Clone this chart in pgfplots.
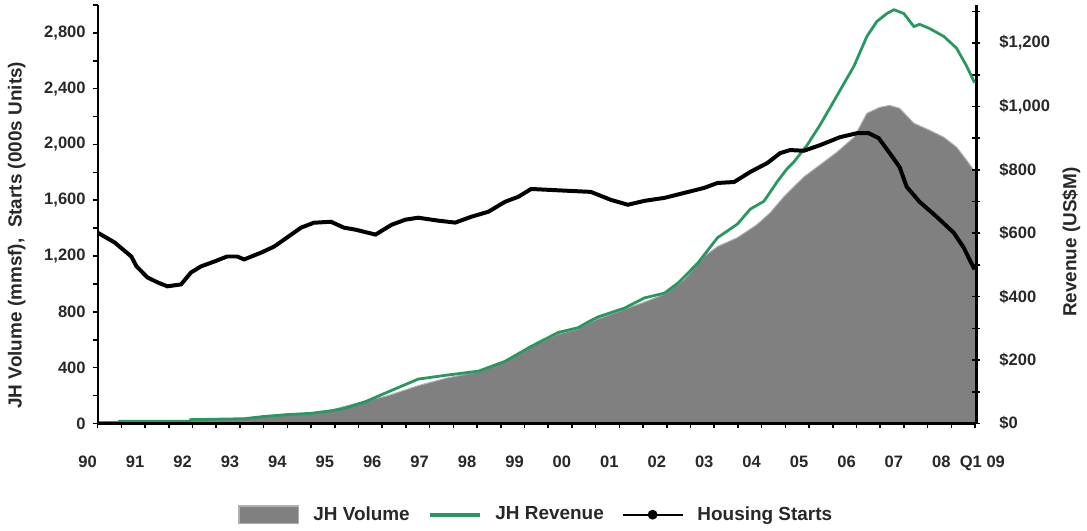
\documentclass[border=0pt]{standalone}
\usepackage{fontspec}
\setmainfont{Liberation Sans}
\usepackage{pgfplots}
\pgfplotsset{compat=1.18}
\usepackage{pgfplotstable}

\definecolor{volgray}{RGB}{128,128,128}
\definecolor{voledge}{RGB}{175,175,175}
\definecolor{revgreen}{RGB}{40,152,96}
\definecolor{txt}{RGB}{40,40,40}

% JH Volume (mmsf), x = years since start of 1990
\pgfplotstableread{
t v
0 0
0.45 0
0.46 14
1.95 14
1.96 28
3.09 36
3.5 50
4.0 64
4.5 71
4.92 93
5.19 121
5.65 160
6.13 200
6.76 271
7.39 328
8.03 370
8.59 442
9.14 549
9.71 641
10.13 677
10.34 720
10.55 750
11.11 819
11.53 870
11.95 926
12.37 1033
12.79 1197
13.07 1268
13.49 1332
13.9 1425
14.18 1510
14.47 1625
14.60 1670
14.89 1767
15.23 1853
15.59 1945
15.95 2052
16.22 2223
16.49 2266
16.70 2280
16.91 2259
17.21 2152
17.54 2102
17.84 2052
18.11 1981
18.32 1888
18.47 1817
18.53 1800
}\voldata

% JH Revenue (US$M)
\pgfplotstableread{
t v
0 3
0.45 3
0.46 7
1.95 7
1.96 12
3.09 15
3.5 22
4.0 28
4.5 32
4.92 40
5.19 47
5.65 69
6.13 100
6.76 140
7.39 153
8.03 165
8.59 196
9.14 243
9.71 287
10.13 302
10.34 320
10.55 336
11.11 364
11.53 396
11.95 411
12.23 442
12.65 505
13.07 586
13.49 629
13.76 676
14.05 701
14.33 763
14.54 804
14.68 825
14.96 878
15.23 941
15.59 1034
15.95 1128
16.22 1221
16.43 1268
16.64 1293
16.79 1305
17.0 1293
17.21 1252
17.33 1259
17.54 1246
17.84 1221
18.11 1184
18.32 1128
18.49 1075
}\revdata

% Housing Starts (000s units)
\pgfplotstableread{
t v
0 1368
0.36 1297
0.71 1197
0.82 1126
1.05 1047
1.26 1012
1.47 983
1.76 997
1.97 1083
2.18 1126
2.46 1161
2.73 1197
2.94 1197
3.09 1176
3.45 1225
3.72 1268
3.99 1332
4.29 1404
4.56 1439
4.92 1446
5.19 1404
5.44 1389
5.86 1354
6.20 1425
6.49 1461
6.76 1475
7.18 1454
7.54 1440
7.88 1482
8.24 1518
8.59 1589
8.87 1625
9.14 1681
9.56 1674
9.98 1667
10.40 1660
10.82 1603
11.18 1568
11.53 1596
11.95 1617
12.37 1653
12.79 1689
13.07 1724
13.42 1731
13.76 1803
14.12 1867
14.39 1938
14.60 1960
14.89 1955
15.23 1995
15.65 2052
16.01 2081
16.26 2081
16.47 2045
16.70 1938
16.91 1838
17.06 1696
17.33 1589
17.69 1482
18.05 1368
18.26 1261
18.49 1104
}\hsdata

\pgfplotsset{
  base/.style={
    width=441pt, height=210pt, scale only axis,
    xmin=0, xmax=18.53,
    /pgf/number format/assume math mode=true,
    /pgf/number format/1000 sep={,},
    tick label style={font=\fontsize{8.3}{9.8}\selectfont\bfseries, text=txt},
    label style={font=\fontsize{9.5}{11}\selectfont\bfseries, text=txt},
  }
}

\begin{document}
\begin{tikzpicture}
% Layer 1: volume area (left scale)
\begin{axis}[base, ymin=0, ymax=3000, hide axis]
  \addplot[fill=volgray, draw=voledge, line width=0.5pt] table[x=t,y=v] {\voldata} \closedcycle;
\end{axis}

% Layer 2: revenue (right scale)
\begin{axis}[base, ymin=0, ymax=1320,
  axis x line=none, axis y line*=right,
  y axis line style={line width=1.1pt, black},
  ytick={0,200,...,1200}, minor ytick={100,300,...,1300},
  tick align=center, major tick length=4pt, minor tick length=4pt,
  every tick/.style={black, line width=0.8pt},
  yticklabel={\$\pgfmathprintnumber{\tick}},
  yticklabel style={xshift=6pt},
  ylabel={Revenue (US\$M)},
  ylabel style={at={(axis description cs:1.108,0.433)}, anchor=center, rotate=0},
]
  \addplot[revgreen, line width=1.4pt] table[x=t,y=v] {\revdata};
\end{axis}

% Layer 3: housing starts, left and bottom axes, legend
\begin{axis}[base, name=ax, ymin=0, ymax=3000,
  axis y line*=left, axis x line*=bottom, axis on top,
  axis line style={line width=1.1pt, black},
  ytick={0,400,...,2800}, minor ytick={200,600,...,3000},
  xtick={0,...,18}, minor xtick={0.5,1.5,...,17.5},
  xticklabels={90,91,92,93,94,95,96,97,98,99,00,01,02,03,04,05,06,07,08},
  extra x ticks={18.5}, extra x tick labels={Q1 09},
  extra x tick style={xticklabel style={xshift=8.7pt}},
  tick align=outside, major tick length=2.5pt, minor tick length=2.5pt,
  every tick/.style={black, line width=0.8pt},
  xticklabel style={xshift=-5pt, yshift=-10.5pt},
  ylabel={JH Volume (mmsf),\ \ Starts (000s Units)},
  ylabel style={at={(axis description cs:-0.092,0.45)}, anchor=center},
  legend style={at={(axis description cs:0.5,-0.178)}, anchor=north,
    draw=none, fill=none, legend columns=3,
    font=\fontsize{9.5}{11}\selectfont\bfseries, text=txt,
    /tikz/every odd column/.append style={column sep=5pt},
    /tikz/every even column/.append style={column sep=7pt}},
]
  \addlegendimage{legend image code/.code={\draw[fill=volgray, draw=voledge, line width=0.8pt] (0pt,-4.5pt) rectangle (30pt,4.5pt);}}
  \addlegendentry{JH Volume}
  \addlegendimage{legend image code/.code={\draw[revgreen, line width=2pt] (0pt,0pt) -- (25pt,0pt);}}
  \addlegendentry{JH Revenue}
  \addplot[black, line width=2pt, mark=none,
    legend image code/.code={\draw[black, line width=1pt] (0pt,0pt) -- (30pt,0pt); \fill[black] (15pt,0pt) circle (1.4pt);}]
    table[x=t,y=v] {\hsdata};
  \addlegendentry{Housing Starts}
\end{axis}
\path[use as bounding box] ([shift={(-49pt,-50pt)}]ax.south west) rectangle ([shift={(53.5pt,2.5pt)}]ax.north east);
\end{tikzpicture}
\end{document}
